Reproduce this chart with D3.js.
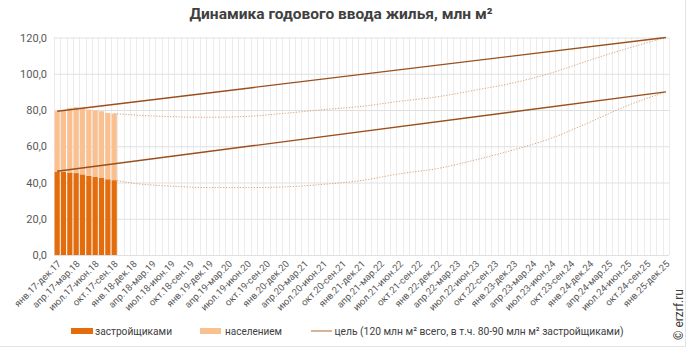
<!DOCTYPE html>
<html><head><meta charset="utf-8">
<script src="https://cdn.jsdelivr.net/npm/d3@7"></script>
<style>
html,body{margin:0;padding:0;background:#fff;}
svg{display:block;font-family:Roboto,"Noto Sans",sans-serif;}
</style></head>
<body><svg id="chart" width="692" height="356"></svg>
<script>
// ---- data ----
const monthNames = ["янв","фев","мар","апр","май","июн","июл","авг","сен","окт","ноя","дек"];
const startYear = 17, categoryCount = 97;
const categories = d3.range(categoryCount).map(i => {
  const m = i % 12, y = startYear + Math.floor(i / 12);
  const em = (m + 11) % 12, ey = m === 0 ? y : y + 1;
  return monthNames[m] + "." + y + "-" + monthNames[em] + "." + ey;
});
const developers = [46.0, 45.8, 45.5, 45.2, 44.5, 43.7, 43.2, 42.5, 41.8, 41.3];
const population = [33.3, 34.0, 35.5, 36.3, 36.7, 36.5, 36.6, 36.8, 36.6, 36.7];
const targetIdx = [0, 96];
const targetTotal = [79.3, 120.0];
const targetDev = [46.2, 90.0];
const forecastIdx = [9, 12, 18, 24, 30, 36, 42, 48, 54, 60, 66, 72, 78, 84, 90, 96];
const forecastTotal = [78.0, 77.3, 76.3, 76.0, 76.5, 78.2, 80.2, 82.0, 84.8, 87.3, 91.0, 95.0, 100.5, 107.5, 114.0, 120.0];
const forecastDev = [41.3, 39.6, 38.0, 37.2, 37.2, 37.6, 39.0, 41.1, 44.8, 47.7, 52.5, 58.0, 64.5, 73.3, 82.5, 90.0];
const yTicks = [0, 20, 40, 60, 80, 100, 120];
const legendItems = ["застройщиками", "населением", "цель (120 млн м² всего, в т.ч. 80-90 млн м² застройщиками)"];

// ---- layout ----
const svg = d3.select("#chart");
const L = 54, R = 669, T = 37.5, B = 255;
const cDev = "#E46C0A", cPop = "#FAC090", cTarget = "#9a4f1c", cFore = "#d8a27a";

const x = d3.scaleBand().domain(categories).range([L, R]).paddingInner(0.18).paddingOuter(0.09);
const xc = i => x(categories[i]) + x.bandwidth() / 2;
const y = d3.scaleLinear().domain([0, 120]).range([B, T]);
const step = x.step();

// frame
svg.append("line").attr("x1", 685.5).attr("x2", 685.5).attr("y1", 0).attr("y2", 347).attr("stroke", "#e3e3e3");
svg.append("line").attr("x1", 0).attr("x2", 686).attr("y1", 346.5).attr("y2", 346.5).attr("stroke", "#e3e3e3");

// title
svg.append("text").attr("x", 341).attr("y", 19).attr("text-anchor", "middle")
  .attr("font-size", 15).attr("font-weight", "bold").attr("fill", "#404040")
  .attr("textLength", 303).attr("lengthAdjust", "spacingAndGlyphs")
  .text("Динамика годового ввода жилья, млн м²");

// vertical grid
svg.append("g").selectAll("line").data(d3.range(categoryCount + 1)).join("line")
  .attr("x1", i => Math.round(L + i * (R - L) / categoryCount) + 0.5)
  .attr("x2", i => Math.round(L + i * (R - L) / categoryCount) + 0.5)
  .attr("y1", T).attr("y2", B).attr("stroke", "#ececec");

// horizontal grid + y labels
const yAxis = d3.axisLeft(y).tickValues(yTicks).tickSize(-(R - L)).tickFormat(d => d.toFixed(1).replace(".", ","));
const gy = svg.append("g").attr("transform", `translate(${L},0)`).call(yAxis);
gy.select(".domain").remove();
gy.selectAll(".tick line").attr("stroke", "#e0e0e0");
gy.selectAll(".tick text").attr("x", -7).attr("font-size", 11).attr("fill", "#595959").attr("font-family", "Roboto");

// bars
const gb = svg.append("g");
gb.selectAll("rect.dev").data(developers).join("rect")
  .attr("x", (d, i) => x(categories[i])).attr("width", x.bandwidth())
  .attr("y", d => y(d)).attr("height", d => y(0) - y(d)).attr("fill", cDev);
gb.selectAll("rect.pop").data(population).join("rect")
  .attr("x", (d, i) => x(categories[i])).attr("width", x.bandwidth())
  .attr("y", (d, i) => y(developers[i] + d)).attr("height", (d, i) => y(developers[i]) - y(developers[i] + d)).attr("fill", cPop);

// lines
const lineGen = d3.line().x(d => xc(d[0])).y(d => y(d[1]));
const curveGen = d3.line().x(d => xc(d[0])).y(d => y(d[1])).curve(d3.curveMonotoneX);
[forecastTotal, forecastDev].forEach(arr => {
  svg.append("path").datum(forecastIdx.map((k, j) => [k, arr[j]])).attr("d", curveGen)
    .attr("fill", "none").attr("stroke", cFore).attr("stroke-width", 1).attr("stroke-dasharray", "1.2,1.6");
});
[targetTotal, targetDev].forEach(arr => {
  svg.append("path").datum(targetIdx.map((k, j) => [k, arr[j]])).attr("d", lineGen)
    .attr("fill", "none").attr("stroke", cTarget).attr("stroke-width", 1.4);
});

// x labels
svg.append("g").selectAll("text").data(categories.filter((c, i) => i % 3 === 0)).join("text")
  .attr("transform", d => `translate(${x(d) + x.bandwidth() / 2 + 2},${B + 7}) rotate(-45)`)
  .attr("text-anchor", "end").attr("dy", "0.35em").attr("font-size", 9.5).attr("fill", "#595959")
  .text(d => d);

// legend
const ly = 331;
const lg = svg.append("g").attr("font-size", 11.5).attr("fill", "#404040");
lg.append("rect").attr("x", 71).attr("y", ly - 3).attr("width", 22).attr("height", 6).attr("fill", cDev);
lg.append("text").attr("x", 95).attr("y", ly).attr("dy", "0.35em").attr("textLength", 77).attr("lengthAdjust", "spacingAndGlyphs").text(legendItems[0]);
lg.append("rect").attr("x", 200).attr("y", ly - 3).attr("width", 21).attr("height", 6).attr("fill", cPop);
lg.append("text").attr("x", 225).attr("y", ly).attr("dy", "0.35em").attr("textLength", 57).attr("lengthAdjust", "spacingAndGlyphs").text(legendItems[1]);
lg.append("line").attr("x1", 311).attr("x2", 332).attr("y1", ly).attr("y2", ly).attr("stroke", "#c08050").attr("stroke-width", 1.2);
lg.append("text").attr("x", 334.5).attr("y", ly).attr("dy", "0.35em").attr("textLength", 289).attr("lengthAdjust", "spacingAndGlyphs").text(legendItems[2]);

// watermark
svg.append("text").attr("transform", "translate(683,340) rotate(-90)").attr("font-size", 12).attr("fill", "#404040")
  .text("© erzrf.ru");
</script></body></html>
